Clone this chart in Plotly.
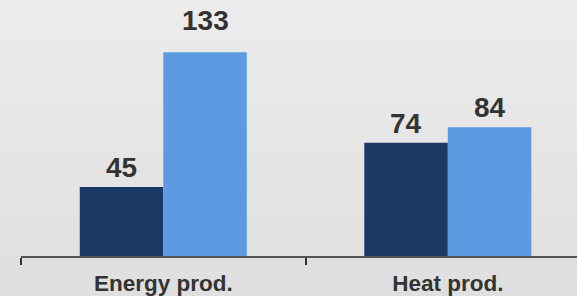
import plotly.graph_objects as go

categories = ["Energy prod.", "Heat prod."]
series_a = [45, 74]
series_b = [133, 84]
series_names = ["Series A", "Series B"]

dark = "#1c3a66"
light = "#5d9ae2"
text_color = "#333333"
font_family = "Liberation Sans, Arial, sans-serif"

W, H = 577, 296
ml, mr, mt, mb = 21, 0, 0, 40
pw, ph = W - ml - mr, H - mt - mb
bargap = 0.413
half_bar = (1 - bargap) / 4  # half of one bar width in category units

fig = go.Figure()
annotations = []
series = [(series_names[0], series_a, dark, -half_bar), (series_names[1], series_b, light, half_bar)]
for name, vals, col, off in series:
    fig.add_trace(go.Bar(x=categories, y=vals, name=name, marker_color=col, marker_line_width=0))
    for i, v in enumerate(vals):
        lift = 14 if v == max(series_a + series_b) else 2
        annotations.append(dict(
            x=i + off, y=v, xref="x", yref="y", text=str(v), showarrow=False,
            yanchor="bottom", xanchor="center", yshift=lift,
            font=dict(family=font_family, size=28, color=text_color, weight="bold"),
        ))

# gradient background bands
shapes = []
n = 37
top = (236, 236, 236)
bot = (223, 223, 223)


def py(p):
    return (H - mb - p) / ph


for i in range(n):
    t = i / (n - 1)
    c = tuple(round(top[k] + (bot[k] - top[k]) * t) for k in range(3))
    y0px = i * H / n
    y1px = (i + 1) * H / n + 1
    shapes.append(dict(type="rect", xref="paper", yref="paper",
                       x0=-ml / pw - 0.01, x1=1 + mr / pw + 0.01, y0=py(y1px), y1=py(y0px),
                       fillcolor="rgb(%d,%d,%d)" % c, line_width=0, layer="below"))

fig.update_layout(
    width=W, height=H,
    margin=dict(l=ml, r=mr, t=mt, b=mb),
    paper_bgcolor="rgb(230,230,230)", plot_bgcolor="rgba(0,0,0,0)",
    barmode="group", bargap=bargap, bargroupgap=0,
    showlegend=False, shapes=shapes, annotations=annotations,
    font=dict(family=font_family, color=text_color),
)
fig.update_xaxes(
    type="category", range=[-0.5, 1.454],
    showline=True, linecolor="#555555", linewidth=1.5,
    ticks="outside", tickson="boundaries", ticklen=7, tickcolor="#333333", tickwidth=1.5,
    ticklabelstandoff=6,
    tickfont=dict(family=font_family, size=22.5, color=text_color, weight="bold"),
    showgrid=False, zeroline=False,
)
fig.update_yaxes(range=[0, 167.1], visible=False, showgrid=False, zeroline=False)

fig.write_html("out.html", config={"displayModeBar": False},
               post_script="document.body.style.margin='0';document.body.style.overflow='hidden';")
